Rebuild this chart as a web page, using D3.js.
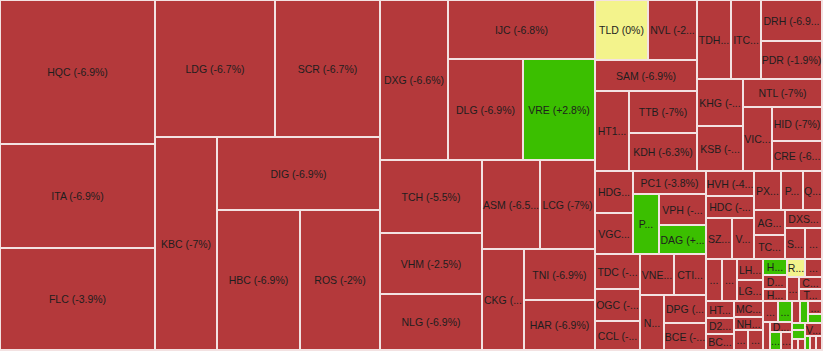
<!DOCTYPE html>
<html>
<head>
<meta charset="utf-8">
<script src="https://cdnjs.cloudflare.com/ajax/libs/d3/7.8.5/d3.min.js"></script>
<style>
  body { margin: 0; background: #fff; }
  svg { display: block; }
  .cell text { font-family: "Liberation Sans", Arial, sans-serif; font-size: 10.5px; fill: #1e1e1e; }
</style>
</head>
<body>
<svg id="chart" width="830" height="354"></svg>
<script>
// tickers, % change of the day, and size (traded value, relative)
const tickers = [
  "HQC","ITA","FLC","LDG","SCR","KBC","DIG","HBC","ROS",
  "DXG","IJC","DLG","VRE","TCH","VHM","NLG","ASM","LCG","CKG","TNI","HAR",
  "TLD","NVL","SAM","HT1","TTB","KDH","TDH","ITC","DRH","PDR","KHG","KSB","NTL","VIC","HID","CRE",
  "HDG","VGC","PC1","PWA","VPH","DAG","TDC","OGC","CCL","VNE","CTI","NDN","DPG","BCE",
  "HVH","HDC","SZC","VPI","PXL","PTL","QCG","AGG","TCD","DXS","SJS","OCH",
  "DTA","CIG","LHG","LGL","HTN","D2D","BCM","MCG","NHA","VRC","EVG",
  "HMC","DXV","HU1","RCL","GVR","SGR","CEO","TNT",
  "PPI","NVT","VCR","D11","HD6","ICG",
  "HU6","LEC","KAC","SDU","PVR","HD2","API","IDV","VC7","SIC","BII","PV2"
];
const changes = [
  -6.9,-6.9,-3.9,-6.7,-6.7,-7,-6.9,-6.9,-2,
  -6.6,-6.8,-6.9,2.8,-5.5,-2.5,-6.9,-6.5,-7,-6.9,-6.9,-6.9,
  0,-2,-6.9,-6.8,-7,-6.3,-6.9,-6.9,-6.9,-1.9,-6.8,-6.9,-7,-1.6,-7,-6.4,
  -6.9,-6.8,-3.8,2.6,-6.9,4.5,-6.9,-6.7,-6.9,-6.8,-6.9,-5.9,-6.9,-6.9,
  -4.2,-6.9,-6.9,-6.8,-6.9,-6.4,-6.9,-6.9,-6.9,-6.9,-6.9,-6.7,
  -6.9,-6.8,-6.9,-6.9,-6.9,-6.9,-6.9,-6.9,-6.9,-6.9,-6.8,
  1.5,-6.9,-6.9,0,-6.9,-6.8,-6.9,-6.9,
  -6.7,2.1,-6.9,-6.9,3.4,-6.9,
  -6.9,5.3,-6.8,1.8,2.9,1.2,-6.9,-6.9,-6.9,0.9,-6.9,-6.9
];
const sizes = [
  22320,16120,15810,16440,14385,13206,11899,11620,11200,
  10880,8673,7575,7272,7446,6222,5712,5162,4895,4242,3621,3550,
  3180,2940,3162,2720,2856,2584,2686,2370,2501,2318,2162,2070,2212,1856,1700,1500,
  1596,1558,1679,1560,1457,1363,1575,1440,1305,1394,1312,1320,1176,1134,
  1200,1056,1066,902,1053,858,741,775,744,666,620,527,
  672,630,546,546,476,448,448,464,377,280,300,
  384,336,288,324,306,288,276,276,
  315,294,196,220,198,198,
  176,176,182,126,91,117,66,77,221,70,84,84
];

// how the tickers are grouped into blocks of the treemap
const blocks = [
  [
    ["HQC","ITA","FLC"],
    [["LDG","SCR"], ["KBC", ["DIG", ["HBC","ROS"]]]]
  ],
  [
    [
      ["DXG", ["IJC", ["DLG","VRE"]]],
      [["TCH","VHM","NLG"], [["ASM","LCG"], ["CKG", ["TNI","HAR"]]]]
    ],
    [
      [
        [["TLD","NVL"], "SAM", ["HT1", ["TTB","KDH"]]],
        [["TDH","ITC",["DRH","PDR"]], [["KHG","KSB"], ["NTL", ["VIC", ["HID","CRE"]]]]]
      ],
      [
        [
          [["HDG","VGC"], ["PC1", ["PWA", ["VPH","DAG"]]]],
          [["TDC","OGC","CCL"], [["VNE","CTI"], ["NDN", ["DPG","BCE"]]]]
        ],
        [
          [["HVH","HDC",["SZC","VPI"]], [["PXL","PTL","QCG"], [["AGG","TCD"], ["DXS", ["SJS","OCH"]]]]],
          [
            [["DTA","CIG",["LHG","LGL"]], [["HTN","D2D","BCM"], ["MCG","NHA",["VRC","EVG"]]]],
            [
              [["HMC","DXV","HU1"], [["RCL","GVR"], ["SGR", ["CEO","TNT"]]]],
              [
                [["PPI","NVT"], ["VCR", ["D11", ["HD6","ICG"]]]],
                [["HU6","LEC",["KAC","SDU"]], [["PVR","HD2",["API","IDV"]], ["VC7", ["SIC","BII","PV2"]]]]
              ]
            ]
          ]
        ]
      ]
    ]
  ]
];

const W = 822, H = 350;
const sizeOf = new Map(tickers.map((t, i) => [t, sizes[i]]));
const changeOf = new Map(tickers.map((t, i) => [t, changes[i]]));

const color = d3.scaleThreshold()
  .domain([-0.001, 0.001])
  .range(["#b4393b", "#f3f38c", "#3bbf00"]);

// lay children out in one strip along the longer side
const tile = (node, x0, y0, x1, y1) =>
  (x1 - x0 > y1 - y0 ? d3.treemapDice : d3.treemapSlice)(node, x0, y0, x1, y1);

const root = d3.hierarchy(blocks, d => Array.isArray(d) ? d : null)
  .sum(d => Array.isArray(d) ? 0 : sizeOf.get(d));

d3.treemap().tile(tile).size([W, H]).round(false)(root);

const svg = d3.select("#chart");

const cell = svg.selectAll("g.cell")
  .data(root.leaves())
  .join("g")
  .attr("class", "cell")
  .attr("transform", d => `translate(${d.x0},${d.y0})`);

cell.append("rect")
  .attr("width", d => d.x1 - d.x0)
  .attr("height", d => d.y1 - d.y0)
  .attr("fill", d => color(changeOf.get(d.data)))
  .attr("stroke", "#f3e2e2")
  .attr("stroke-width", 2);

function label(d) {
  const c = changeOf.get(d.data);
  return `${d.data} (${c > 0 ? "+" : ""}${c}%)`;
}

cell.append("text")
  .attr("x", d => (d.x1 - d.x0) / 2)
  .attr("y", d => (d.y1 - d.y0) / 2)
  .attr("text-anchor", "middle")
  .attr("dominant-baseline", "central")
  .each(function (d) {
    const el = d3.select(this);
    const maxW = d.x1 - d.x0 - 1;
    if (d.y1 - d.y0 < 10) return;
    const full = label(d);
    el.text(full);
    if (this.getComputedTextLength() <= maxW) return;
    // cut the text and add dots until it fits
    for (let n = full.length - 1; n >= 0; n--) {
      el.text(full.slice(0, n).trimEnd() + "...");
      if (this.getComputedTextLength() <= maxW) return;
    }
    el.text("");
  });
</script>
</body>
</html>
